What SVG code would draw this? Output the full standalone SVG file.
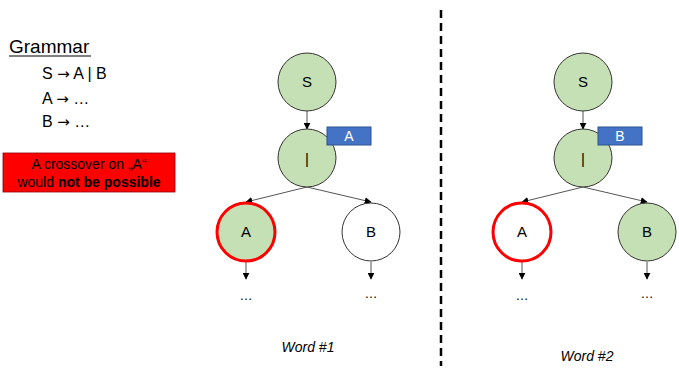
<svg xmlns="http://www.w3.org/2000/svg" width="679" height="371" viewBox="0 0 679 371">
  <defs>
    <marker id="arrow" viewBox="0 0 10 10" refX="9" refY="5" markerWidth="7" markerHeight="7" markerUnits="userSpaceOnUse" orient="auto">
      <path d="M0,0 L10,5 L0,10 z" fill="#000"/>
    </marker>
    <style>
      text { font-family: "Liberation Sans", Arial, sans-serif; fill: #000; }
      .arr { font-family: "DejaVu Sans", sans-serif; }
      .node { fill: #c5e0b4; stroke: #333; stroke-width: 1; }
      .plain { fill: #fff; stroke: #333; stroke-width: 1; }
      .mark { stroke: #ff0000; stroke-width: 3; }
      .lbl { font-size: 15px; text-anchor: middle; }
      .tag { fill: #4472c4; stroke: #2f528f; stroke-width: 1; }
      .tagtxt { font-size: 14px; text-anchor: middle; fill: #fff; }
      .edge { stroke: #555; stroke-width: 1; fill: none; marker-end: url(#arrow); }
      .dots { font-size: 13px; text-anchor: middle; }
      .cap { font-size: 14px; font-style: italic; text-anchor: middle; }
      .gram { font-size: 16px; }
      .warn { font-size: 14px; text-anchor: middle; }
    </style>
  </defs>

  <!-- grammar legend -->
  <g id="grammar">
    <text x="9" y="53" font-size="19">Grammar</text>
    <line x1="9" y1="56" x2="91" y2="56" stroke="#000" stroke-width="1.2"/>
    <text class="gram" x="42" y="79">S <tspan class="arr" font-size="15">→</tspan> A | B</text>
    <text class="gram" x="42" y="104">A <tspan class="arr" font-size="15">→</tspan> …</text>
    <text class="gram" x="42" y="127">B <tspan class="arr" font-size="15">→</tspan> …</text>
  </g>

  <g id="note">
    <rect x="3" y="153" width="172" height="39" fill="#ff0000" stroke="#8b0000" stroke-width="0.8"/>
    <text class="warn" x="89" y="169">A crossover on „A“</text>
    <text class="warn" x="89" y="187">would <tspan font-weight="bold">not be possible</tspan></text>
  </g>

  <!-- separator -->
  <line id="divider" x1="441" y1="10" x2="441" y2="366" stroke="#000" stroke-width="2.5" stroke-dasharray="8,5"/>

  <!-- connectors -->
  <g id="connectors">
    <line class="edge" x1="307" y1="111" x2="307" y2="129"/>
    <line class="edge" x1="307" y1="187" x2="246" y2="202"/>
    <line class="edge" x1="307" y1="187" x2="371" y2="202"/>
    <line class="edge" x1="246" y1="262" x2="246" y2="279"/>
    <line class="edge" x1="371" y1="262" x2="371" y2="279"/>

    <line class="edge" x1="583" y1="111" x2="583" y2="129"/>
    <line class="edge" x1="583" y1="187" x2="522" y2="202"/>
    <line class="edge" x1="583" y1="187" x2="647" y2="202"/>
    <line class="edge" x1="522" y1="262" x2="522" y2="279"/>
    <line class="edge" x1="647" y1="262" x2="647" y2="279"/>
  </g>

  <!-- word 1 -->
  <g id="w1-s">
    <circle class="node" cx="307" cy="82" r="29"/>
    <text class="lbl" x="307" y="87">S</text>
  </g>
  <g id="w1-alt">
    <circle class="node" cx="307" cy="158" r="29"/>
    <text class="lbl" x="307" y="164">|</text>
  </g>
  <g id="w1-tag">
    <rect class="tag" x="327" y="127" width="44" height="18"/>
    <text class="tagtxt" x="349" y="141">A</text>
  </g>
  <g id="w1-a">
    <circle class="node mark" cx="246" cy="232" r="29"/>
    <text class="lbl" x="246" y="237">A</text>
  </g>
  <g id="w1-b">
    <circle class="plain" cx="371" cy="232" r="29"/>
    <text class="lbl" x="371" y="237">B</text>
  </g>
  <text class="dots" x="246" y="300">…</text>
  <text class="dots" x="371" y="298">…</text>
  <text class="cap" x="308" y="352">Word #1</text>

  <!-- word 2 -->
  <g id="w2-s">
    <circle class="node" cx="583" cy="82" r="29"/>
    <text class="lbl" x="583" y="87">S</text>
  </g>
  <g id="w2-alt">
    <circle class="node" cx="583" cy="158" r="29"/>
    <text class="lbl" x="583" y="164">|</text>
  </g>
  <g id="w2-tag">
    <rect class="tag" x="598" y="127" width="44" height="18"/>
    <text class="tagtxt" x="620" y="141">B</text>
  </g>
  <g id="w2-a">
    <circle class="plain mark" cx="522" cy="232" r="29"/>
    <text class="lbl" x="522" y="237">A</text>
  </g>
  <g id="w2-b">
    <circle class="node" cx="647" cy="232" r="29"/>
    <text class="lbl" x="647" y="237">B</text>
  </g>
  <text class="dots" x="522" y="300">…</text>
  <text class="dots" x="647" y="298">…</text>
  <text class="cap" x="587" y="361">Word #2</text>
</svg>
